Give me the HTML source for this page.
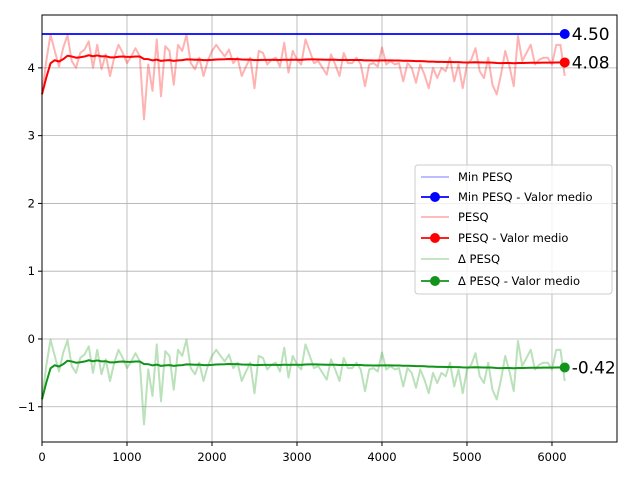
<!DOCTYPE html>
<html><head><meta charset="utf-8"><style>
body{margin:0;background:#fff;}
svg text{font-family:"DejaVu Sans","Liberation Sans",sans-serif;}
</style></head><body>
<svg id="chart" width="640" height="480" xmlns="http://www.w3.org/2000/svg"></svg>
<script>
const xTicks=[0,1000,2000,3000,4000,5000,6000];
const yTicks=[-1,0,1,2,3,4];
const yTickLabels=["\u22121","0","1","2","3","4"];
const xStep=50;
const minPesq=4.5;
const pesq=[3.61,4.10,4.49,4.25,4.02,4.30,4.48,4.10,4.00,4.22,
4.27,4.39,4.00,4.34,3.98,4.20,3.88,4.15,4.34,4.22,
4.07,4.17,4.29,4.17,3.24,4.05,3.66,4.42,3.58,4.32,
4.25,3.75,4.34,4.25,4.49,4.07,3.98,4.15,3.88,4.10,
4.25,4.34,4.25,4.17,4.27,4.07,4.15,3.88,4.02,4.15,
3.70,4.25,4.22,4.05,4.12,4.15,4.02,4.37,3.93,4.25,
4.12,4.05,4.42,4.25,4.07,4.10,
4.00,3.90,4.20,4.05,3.88,4.22,4.07,4.07,4.15,4.05,
3.73,4.05,4.07,4.02,4.30,4.05,4.10,4.05,4.07,3.80,
4.07,4.00,3.78,4.05,3.90,3.70,4.00,3.85,4.00,3.95,
4.15,3.80,4.05,3.70,4.05,4.12,4.29,3.95,3.85,4.15,
3.75,3.61,3.90,4.25,4.02,3.73,4.47,4.10,4.22,4.34,
4.05,4.12,4.15,4.15,4.05,4.34,4.34,3.88];
const labels=["Min PESQ","Min PESQ - Valor medio","PESQ","PESQ - Valor medio","\u0394 PESQ","\u0394 PESQ - Valor medio"];

const svg=document.getElementById('chart');
const NS="http://www.w3.org/2000/svg";
const L=42,R=617,T=15,B=442;
const xMin=0,xMax=6765,yMin=-1.52,yMax=4.78;
const sx=v=>L+(v-xMin)/(xMax-xMin)*(R-L);
const sy=v=>B-(v-yMin)/(yMax-yMin)*(B-T);
function el(tag,attrs,parent){const e=document.createElementNS(NS,tag);for(const k in attrs)e.setAttribute(k,attrs[k]);(parent||svg).appendChild(e);return e;}

const delta=pesq.map(v=>v-minPesq);
const xs=pesq.map((v,i)=>i*xStep);
function cummean(a){let s=0;return a.map((v,i)=>{s+=v;return s/(i+1);});}
const pesqMean=cummean(pesq), deltaMean=cummean(delta);
const minArr=pesq.map(()=>minPesq);

xTicks.forEach(t=>{const g=el('line',{x1:sx(t),x2:sx(t),y1:T,y2:B,stroke:'#b0b0b0','stroke-width':0.8});

});
yTicks.forEach(t=>{const g=el('line',{x1:L,x2:R,y1:sy(t),y2:sy(t),stroke:'#b0b0b0','stroke-width':0.8});

});

function poly(arr,color,w,op,name){const p=el('polyline',{points:arr.map((v,i)=>sx(xs[i])+','+sy(v)).join(' '),fill:'none',stroke:color,'stroke-width':w,'stroke-opacity':op,'stroke-linejoin':'round'});

return p;}
poly(pesq,'#ff0000',2,0.3,'pesq-line');
poly(delta,'#1a9c1a',2,0.3,'delta-pesq-line');
poly(minArr,'#0000ff',1.8,1,'min-pesq-line');
poly(pesqMean,'#ff0000',2,1,'pesq-mean-line');
poly(deltaMean,'#12931a',2,1,'delta-pesq-mean-line');

function endDot(v,color,name){const n=xs.length-1;
const c=el('circle',{cx:sx(xs[n]),cy:sy(v),r:5,fill:color});


const t=el('text',{x:sx(xs[n])+7,y:sy(v)+6,'font-size':17,fill:'#000'});
t.textContent=v.toFixed(2);

}
endDot(minArr[minArr.length-1],'#0000ff','min-pesq-end');
endDot(pesqMean[pesqMean.length-1],'#ff0000','pesq-mean-end');
endDot(deltaMean[deltaMean.length-1],'#12931a','delta-mean-end');

const fr=el('rect',{x:L,y:T,width:R-L,height:B-T,fill:'none',stroke:'#000','stroke-width':1});


xTicks.forEach(t=>{el('line',{x1:sx(t),x2:sx(t),y1:B,y2:B+4,stroke:'#000'});
const tx=el('text',{x:sx(t),y:B+19,'font-size':11.5,'text-anchor':'middle'});tx.textContent=t;

});
yTicks.forEach((t,i)=>{el('line',{x1:L-4,x2:L,y1:sy(t),y2:sy(t),stroke:'#000'});
const tx=el('text',{x:L-7,y:sy(t)+4,'font-size':11.5,'text-anchor':'end'});tx.textContent=yTickLabels[i];

});

const lg=el('g',{});


el('rect',{x:415,y:165,width:197,height:129,rx:3,fill:'#fff','fill-opacity':0.8,stroke:'#ccc'},lg);
const lc=['#0000ff','#0000ff','#ff0000','#ff0000','#1a9c1a','#12931a'];
const lo=[0.3,1,0.3,1,0.3,1];
const ly=[177,197,217,238,259,281];
labels.forEach((s,i)=>{const g=el('g',{},lg);


el('line',{x1:421,x2:449,y1:ly[i],y2:ly[i],stroke:lc[i],'stroke-opacity':lo[i],'stroke-width':1.8},g);
if(i%2==1)el('circle',{cx:435,cy:ly[i],r:5,fill:lc[i]},g);
const t=el('text',{x:458,y:ly[i]+4,'font-size':11.5},g);t.textContent=s;});
</script>
</body></html>
